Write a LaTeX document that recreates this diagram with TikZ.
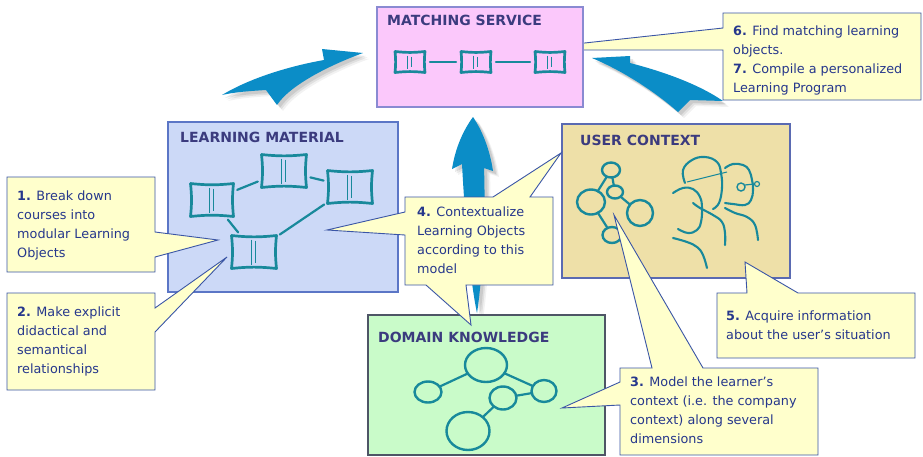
\documentclass[tikz,border=0pt]{standalone}
\usepackage{fontspec}
\setmainfont{DejaVu Sans}
\usetikzlibrary{shapes.geometric}

\definecolor{msfill}{HTML}{FBC8FB}
\definecolor{msline}{HTML}{8A8AD2}
\definecolor{lmfill}{HTML}{CCD9F7}
\definecolor{lmline}{HTML}{5B76C6}
\definecolor{ucfill}{HTML}{EEE0A8}
\definecolor{ucline}{HTML}{5A6AB2}
\definecolor{dkfill}{HTML}{C9FBC9}
\definecolor{dkline}{HTML}{4E5566}
\definecolor{notefill}{HTML}{FFFFCC}
\definecolor{noteline}{HTML}{3A55A6}
\definecolor{notetext}{HTML}{26378C}
\definecolor{headtext}{HTML}{3B3B7E}
\definecolor{sketchc}{HTML}{18899B}
\definecolor{arrowblue}{HTML}{0B8DC7}

\tikzset{
  panel/.style={rectangle, inner sep=0pt, outer sep=0pt, line width=1.3pt, anchor=north west},
  paneltitle/.style={inner sep=0pt, anchor=north west, text=headtext,
    font=\fontsize{14}{16}\selectfont\bfseries},
  note/.style={fill=notefill, draw=noteline, line width=0.9pt, line join=miter},
  notetext/.style={inner sep=0pt, anchor=north west, align=left, text=notetext,
    font=\fontsize{12.8}{18.8}\selectfont},
  lo/.style={rectangle, inner sep=0pt, outer sep=0pt},
  sk/.style={draw=sketchc, line width=2.7pt, line cap=round, line join=round},
  skline/.style={draw=sketchc, line width=2.2pt, line cap=round},
  sklink/.style={skline, shorten <=4pt, shorten >=4pt},
  bubble/.style={ellipse, draw=sketchc, line width=2.4pt, inner sep=0pt, outer sep=0pt},
  headline/.style={draw=sketchc, line width=2.1pt, line cap=round, line join=round},
}

% hand-drawn learning object: a slightly pinched square with inner strokes
\newcommand\losq[1]{%
  \draw[sk] (#1.north west) to[bend right=6] (#1.north east)
    to[bend right=6] (#1.south east) to[bend right=6] (#1.south west)
    to[bend right=6] (#1.north west);
  \draw[draw=sketchc, line width=1.2pt] ([xshift=-2.5pt,yshift=-4pt]#1.north) -- ([xshift=-2.5pt,yshift=4pt]#1.south);
  \draw[draw=sketchc, line width=0.7pt] ([xshift=1pt,yshift=-5pt]#1.north) -- ([xshift=1pt,yshift=6pt]#1.south);
}

\begin{document}
\begin{tikzpicture}[x=1pt, y=-1pt]
\useasboundingbox (0,0) rectangle (923,456);
\fill[white] (0,0) rectangle (923,456);

% ---- swooping arrows (with soft shadows) ----
\foreach \s/\c/\o in {6/black/0.05, 4.5/black/0.07, 3/black/0.09, 0/arrowblue/1} {
  % from learning material to matching service
  \fill[fill=\c, fill opacity=\o, shift={(\s,\s)}]
    (222,95) .. controls (250,78) and (290,66) .. (324,60) -- (322,49) -- (363,53)
    .. controls (330,65) and (290,85) .. (277,105) -- (266,90)
    .. controls (250,91) and (235,92) .. (222,95) -- cycle;
  % from the personalization step back into matching service
  \fill[fill=\c, fill opacity=\o, shift={(\s,\s)}]
    (592,58) -- (630,56) -- (630,63) .. controls (665,72) and (700,85) .. (723,101)
    -- (690,100) -- (678,112) .. controls (655,92) and (625,72) .. (592,58) -- cycle;
  % from domain knowledge up to matching service
  \fill[fill=\c, fill opacity=\o, shift={(\s,\s)}]
    (473,117) .. controls (462,132) and (455,150) .. (452,169) -- (462,164)
    .. controls (465,220) and (470,280) .. (477,313)
    .. controls (482,280) and (486,220) .. (484,168) -- (493,171)
    .. controls (490,150) and (482,130) .. (473,117) -- cycle;
}

% ---- note 6/7 (its pointer runs under the matching service panel) ----
\draw[note] (723,13) -- (921,13) -- (921,100) -- (723,100) -- (723,50) -- (520,50) -- (723,28) -- cycle;
\node[notetext] (n67) at (733,26) {\textbf{6.} Find matching learning\\objects.\\\textbf{7.} Compile a personalized\\Learning Program};

% ---- panels ----
\node[panel, fill=msfill, draw=msline, minimum width=206, minimum height=100] (ms) at (377,7) {};
\node[paneltitle] (mst) at (387,15) {MATCHING SERVICE};

\node[panel, fill=lmfill, draw=lmline, minimum width=230, minimum height=170] (lm) at (168,122) {};
\node[paneltitle] (lmt) at (180,132) {LEARNING MATERIAL};

\node[panel, fill=ucfill, draw=ucline, minimum width=228, minimum height=154] (uc) at (562,124) {};
\node[paneltitle] (uct) at (580,135) {USER CONTEXT};

\node[panel, fill=dkfill, draw=dkline, minimum width=237, minimum height=140] (dk) at (368,315) {};
\node[paneltitle] (dkt) at (378,332) {DOMAIN KNOWLEDGE};

% ---- matching service: chain of learning objects ----
\node[lo, minimum width=30, minimum height=21] (m1) at (410,62) {};
\node[lo, minimum width=30, minimum height=21] (m2) at (476,62) {};
\node[lo, minimum width=30, minimum height=21] (m3) at (550,62) {};
\losq{m1}\losq{m2}\losq{m3}
\draw[sklink, shorten <=5pt, shorten >=5pt] (m1) -- (m2);
\draw[sklink, shorten <=5pt, shorten >=5pt] (m2) -- (m3);

% ---- learning material: network of learning objects ----
\node[lo, minimum width=43, minimum height=33] (l1) at (212,200) {};
\node[lo, minimum width=45, minimum height=33] (l2) at (284,171) {};
\node[lo, minimum width=45, minimum height=33] (l3) at (350,187) {};
\node[lo, minimum width=45, minimum height=33] (l4) at (254,252) {};
\losq{l1}\losq{l2}\losq{l3}\losq{l4}
\draw[sklink] (l1) -- (l2);
\draw[sklink] (l2) -- (l3);
\draw[sklink] (l1) -- (l4);
\draw[sklink] (l4) -- (l3);

% ---- user context: small graph ----
\node[bubble, minimum width=18, minimum height=15] (u1) at (611,170) {};
\node[bubble, minimum width=16, minimum height=13] (u2) at (615,192) {};
\node[bubble, minimum width=28, minimum height=25] (u3) at (591,202) {};
\node[bubble, minimum width=26, minimum height=26] (u4) at (640,213) {};
\node[bubble, minimum width=19, minimum height=16] (u5) at (612,235) {};
\draw[skline] (u1) -- (u3);
\draw[skline] (u1) -- (u2);
\draw[skline] (u2) -- (u4);
\draw[skline] (u3) -- (u5);

% ---- user context: two head profiles ----
\draw[headline] plot[smooth, tension=0.7] coordinates {(685,183) (683,170) (692,160) (705,157) (717,162) (721,173) (722,188) (719,203) (713,209)};
\draw[draw=sketchc, line width=1pt] (687,182) -- (727,172);
\draw[headline] plot[smooth, tension=0.7] coordinates {(673,193) (683,188) (693,189) (700,197) (702,208) (701,222) (697,230) (688,233) (678,229)};
\draw[headline] plot[smooth, tension=0.7] coordinates {(693,203) (700,208) (713,215) (722,222) (725,233) (725,245)};
\draw[headline] plot[smooth, tension=0.7] coordinates {(673,238) (687,242) (697,247) (703,255) (707,268)};
\draw[headline] plot[smooth, tension=0.7] coordinates {(725,168) (733,164) (743,165) (749,170) (752,180) (753,190) (751,200) (745,205) (733,204) (725,203)};
\draw[headline] plot[smooth, tension=0.7] coordinates {(725,208) (735,213) (747,217) (755,225) (758,240)};
\draw[draw=sketchc, line width=1.4pt] (741,187) circle[radius=4];
\draw[draw=sketchc, line width=1.2pt] (745,185) -- (754,184);
\draw[draw=sketchc, line width=1.2pt] (757,184) circle[radius=2.5];

% ---- domain knowledge: concept graph ----
\node[bubble, minimum width=42, minimum height=34] (d1) at (486,365) {};
\node[bubble, minimum width=27, minimum height=21] (d2) at (428,392) {};
\node[bubble, minimum width=25, minimum height=22] (d3) at (544,391) {};
\node[bubble, minimum width=27, minimum height=23] (d4) at (503,398) {};
\node[bubble, minimum width=43, minimum height=38] (d5) at (468,431) {};
\draw[skline] (d1) -- (d2);
\draw[skline] (d1) -- (d3);
\draw[skline] (d4) -- (d3);
\draw[skline] (d4) -- (d5);

% ---- notes ----
\draw[note] (7,177) -- (155,177) -- (155,232) -- (218,240) -- (155,257) -- (155,272) -- (7,272) -- cycle;
\node[notetext] (n1) at (17,191) {\textbf{1.} Break down\\courses into\\modular Learning\\Objects};

\draw[note] (7,293) -- (155,293) -- (155,308) -- (227,257) -- (155,332) -- (155,390) -- (7,390) -- cycle;
\node[notetext] (n2) at (17,307) {\textbf{2.} Make explicit\\didactical and\\semantical\\relationships};

\draw[note] (405,197) -- (493,197) -- (561,153) -- (530,197) -- (553,197) -- (553,285)
  -- (466,285) -- (471,325) -- (426,285) -- (405,285) -- (405,235) -- (327,230) -- (405,212) -- cycle;
\node[notetext] (n4) at (417,207) {\textbf{4.} Contextualize\\Learning Objects\\according to this\\model};

\draw[note] (717,293) -- (747,293) -- (745,262) -- (798,293) -- (915,293) -- (915,358) -- (717,358) -- cycle;
\node[notetext] (n5) at (726,311) {\textbf{5.} Acquire information\\about the user’s situation};

\draw[note] (620,368) -- (652,368) -- (614,215) -- (703,368) -- (818,368) -- (818,455)
  -- (620,455) -- (620,405) -- (562,408) -- (620,382) -- cycle;
\node[notetext] (n3) at (630,377) {\textbf{3.} Model the learner’s\\context (i.e. the company\\context) along several\\dimensions};
\end{tikzpicture}
\end{document}
